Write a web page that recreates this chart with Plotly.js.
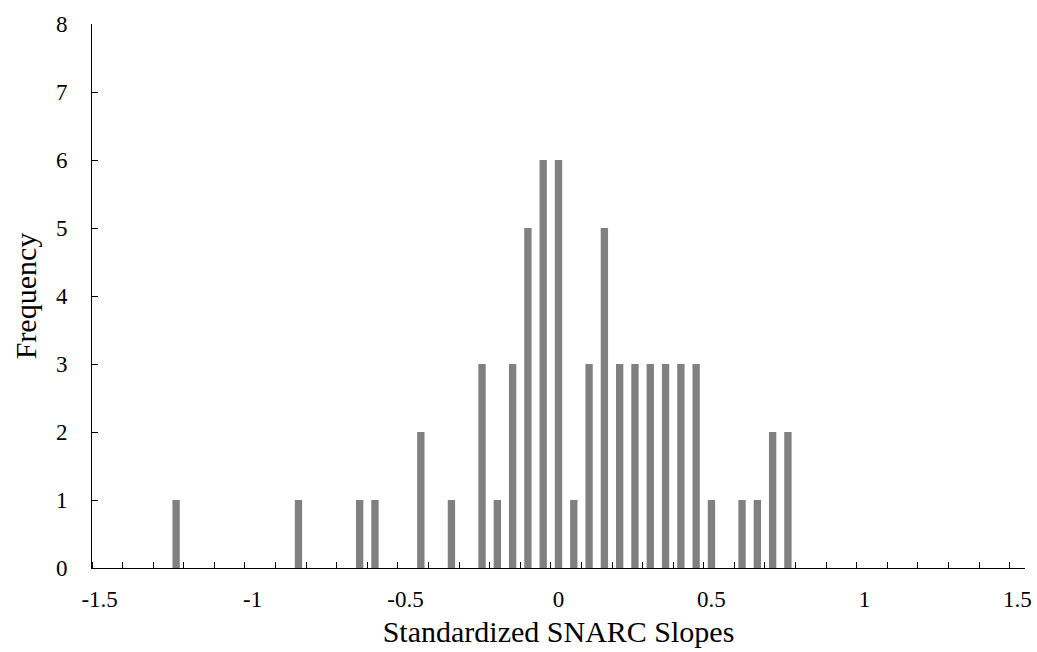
<!DOCTYPE html>
<html>
<head>
<meta charset="utf-8">
<script src="https://cdn.plot.ly/plotly-3.0.1.min.js"></script>
<style>
  html, body { margin: 0; padding: 0; background: #fff; }
  #chart { width: 1037px; height: 652px; }
</style>
</head>
<body>
<div id="chart"></div>
<script>
// Bin centers (standardized SNARC slope) with non-zero counts
const slopes = [-1.25, -0.85, -0.65, -0.6, -0.45, -0.35, -0.25, -0.2, -0.15, -0.1, -0.05, 0, 0.05, 0.1, 0.15, 0.2, 0.25, 0.3, 0.35, 0.4, 0.45, 0.5, 0.6, 0.65, 0.7, 0.75];
const frequency = [1, 1, 1, 1, 2, 1, 3, 1, 3, 5, 6, 6, 1, 3, 5, 3, 3, 3, 3, 3, 3, 1, 1, 1, 2, 2];
const xTickVals = [-1.5, -1, -0.5, 0, 0.5, 1, 1.5];
const xTickText = ['-1.5', '-1', '-0.5', '0', '0.5', '1', '1.5'];

const font = { family: '"Liberation Serif", "Times New Roman", serif', color: '#000' };

const trace = {
  type: 'bar',
  x: slopes,
  y: frequency,
  width: 0.024,
  marker: { color: '#808080', line: { width: 0 } },
  hoverinfo: 'x+y'
};

const layout = {
  width: 1037,
  height: 652,
  margin: { l: 92, r: 12, t: 24, b: 84, pad: 0 },
  paper_bgcolor: '#fff',
  plot_bgcolor: '#fff',
  showlegend: false,
  font: Object.assign({ size: 23 }, font),
  xaxis: {
    range: [-1.525, 1.525],
    tickmode: 'array',
    tickvals: xTickVals,
    ticktext: xTickText,
    ticks: '',
    showgrid: false,
    zeroline: false,
    showline: true,
    linecolor: '#000',
    linewidth: 1,
    ticklabelstandoff: 10,
    tickfont: Object.assign({ size: 23 }, font),
    minor: { tickmode: 'linear', tick0: -1.525, dtick: 0.1, ticks: 'inside', ticklen: 6, tickwidth: 1, tickcolor: '#000', showgrid: false },
    title: { text: 'Standardized SNARC Slopes', font: Object.assign({ size: 30 }, font), standoff: 10 },
    fixedrange: true
  },
  yaxis: {
    range: [0, 8],
    tickmode: 'linear',
    tick0: 0,
    dtick: 1,
    ticks: 'inside',
    ticklen: 6,
    tickwidth: 1,
    tickcolor: '#000',
    showgrid: false,
    zeroline: false,
    showline: true,
    linecolor: '#000',
    linewidth: 1,
    ticklabelstandoff: 19,
    tickfont: Object.assign({ size: 23 }, font),
    title: { text: 'Frequency', font: Object.assign({ size: 30 }, font), standoff: 10 },
    fixedrange: true
  }
};

Plotly.newPlot('chart', [trace], layout, { staticPlot: true, displayModeBar: false });
</script>
</body>
</html>
